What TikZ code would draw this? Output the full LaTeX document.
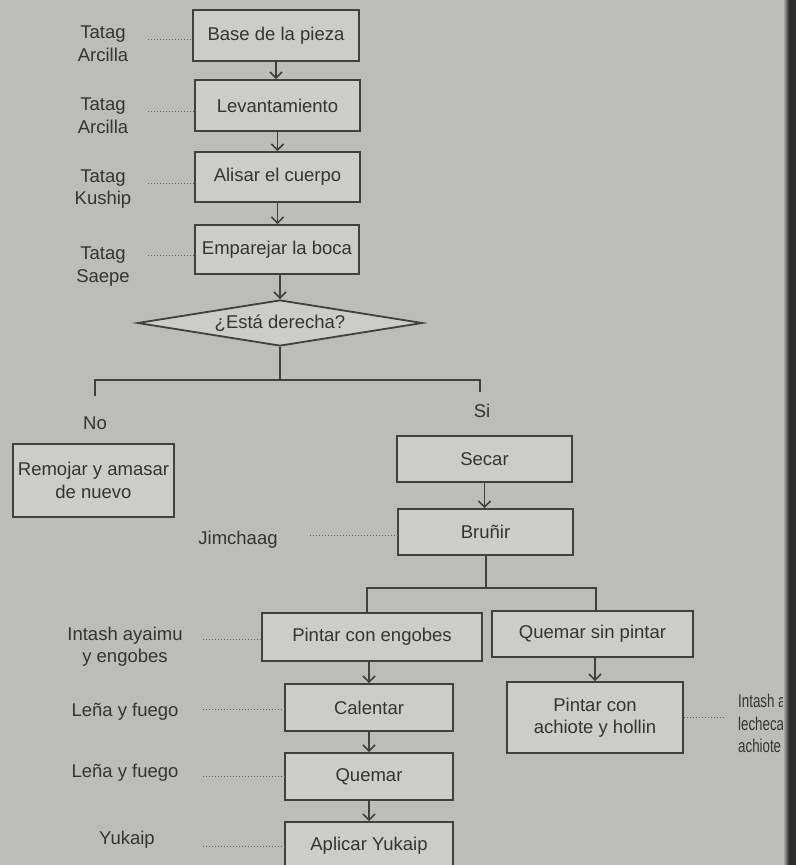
\documentclass[tikz,border=0pt]{standalone}
\usepackage{fontspec}
\setmainfont{Liberation Sans}
\usetikzlibrary{arrows.meta,shapes.geometric}
\definecolor{bg}{RGB}{188,189,184}
\definecolor{boxfill}{RGB}{204,205,200}
\definecolor{ink}{RGB}{52,52,50}
\definecolor{edge}{RGB}{64,64,60}
\definecolor{dotc}{RGB}{96,96,92}
\definecolor{bind}{RGB}{45,45,43}
\begin{document}
\begin{tikzpicture}[x=1pt,y=-1pt,
  font=\fontsize{18.5}{22.5}\selectfont,
  every node/.style={text=ink},
  stepbox/.style={draw=edge,line width=1.8pt,fill=boxfill,inner sep=0pt,align=center},
  decision/.style={diamond,draw=edge,line width=1.8pt,fill=boxfill,inner sep=0pt,aspect=6},
  lbl/.style={align=center,inner sep=0pt},
  flow/.style={draw=edge,line width=1.6pt,-{Straight Barb[length=6pt,width=12pt,line width=1.6pt]}},
  link/.style={draw=edge,line width=1.6pt},
  dots/.style={draw=dotc,line width=1pt,dash pattern=on 1pt off 2pt}
]
\useasboundingbox (0,0) rectangle (796,865);
\clip (0,0) rectangle (796,865);
\fill[bg] (0,0) rectangle (796,865);

% main column
\node[stepbox,minimum width=166pt,minimum height=51pt] (b1) at (276,35.5) {Base de la pieza};
\node[stepbox,minimum width=165pt,minimum height=51pt] (b2) at (277.5,105.5) {Levantamiento};
\node[stepbox,minimum width=165pt,minimum height=50pt] (b3) at (277.5,177) {Alisar el cuerpo};
\node[stepbox,minimum width=164pt,minimum height=49pt] (b4) at (277,249.5) {Emparejar la boca};
\node[decision,minimum width=285pt,minimum height=46pt] (q) at (280,323) {¿Está derecha?};

% left labels
\node[lbl] (l1) at (103,43.5) {Tatag\\Arcilla};
\node[lbl] (l2) at (103,115.5) {Tatag\\Arcilla};
\node[lbl] (l3) at (103,189) {Tatag\\Kuship};
\node[lbl] (l4) at (103,266.5) {Tatag\\Saepe};

% branches
\node[lbl] (no) at (95,423) {No};
\node[lbl] (si) at (482,411) {Si};
\node[stepbox,minimum width=161pt,minimum height=73pt] (rem) at (93.5,480.5) {Remojar y amasar\\de nuevo};
\node[stepbox,minimum width=175pt,minimum height=46pt] (sec) at (484.5,459) {Secar};
\node[stepbox,minimum width=175pt,minimum height=46pt] (bru) at (485.5,532) {Bruñir};
\node[lbl] (ljim) at (238,540) {Jimchaag};

% lower part
\node[stepbox,minimum width=220pt,minimum height=48pt] (pce) at (372,637) {Pintar con engobes};
\node[stepbox,minimum width=201pt,minimum height=46pt] (qsp) at (592.5,634) {Quemar sin pintar};
\node[stepbox,minimum width=168pt,minimum height=47pt] (cal) at (369,707.5) {Calentar};
\node[stepbox,minimum width=176pt,minimum height=71pt] (pca) at (595,717.5) {Pintar con\\achiote y hollin};
\node[stepbox,minimum width=168pt,minimum height=47pt] (quem) at (369,776.5) {Quemar};
\node[stepbox,minimum width=168pt,minimum height=47pt] (apl) at (369,845.5) {Aplicar Yukaip};

\node[lbl] (l5) at (125,646.5) {Intash ayaimu\\y engobes};
\node[lbl] (l6) at (125,712) {Leña y fuego};
\node[lbl] (l7) at (125,773) {Leña y fuego};
\node[lbl] (l8) at (127,840) {Yukaip};
\node[lbl,anchor=west,align=left] (lr) at (738,723.5) {\scalebox{0.72}[1]{Intash a}\\\scalebox{0.72}[1]{lecheca}\\\scalebox{0.72}[1]{achiote}};

% flow arrows (kept vertical)
\draw[flow] (b1.south) -- (b1.south |- b2.north);
\draw[flow] (b2.south) -- (b2.south |- b3.north);
\draw[flow] (b3.south) -- (b3.south |- b4.north);
\draw[flow] (q.north |- b4.south) -- (q.north);

\coordinate (jn) at (280,380);
\coordinate (noL) at (95,380);
\coordinate (noE) at (95,396);
\coordinate (siR) at (480,380);
\coordinate (siE) at (480,392);
\draw[link] (q.south) -- (jn);
\draw[link] (noE) -- (noL) -- (siR) -- (siE);

\draw[flow] (sec.south) -- (sec.south |- bru.north);
\coordinate (sp) at (486,588);
\coordinate (spL) at (367,588);
\coordinate (spR) at (596,588);
\draw[link] (bru.south -| sp) -- (sp);
\draw[link] (pce.north -| spL) -- (spL) -- (spR) -- (qsp.north -| spR);

\draw[flow] (pce.south -| cal.north) -- (cal.north);
\draw[flow] (qsp.south -| pca.north) -- (pca.north);
\draw[flow] (cal.south) -- (quem.north);
\draw[flow] (quem.south) -- (apl.north);

% dotted links
\coordinate (dxa) at (148,0);
\coordinate (dxb) at (203,0);
\coordinate (dxc) at (310,0);
\coordinate (dxr) at (725,0);
\coordinate (e1) at ([yshift=-4pt]b1.west);
\coordinate (e2) at ([yshift=-6pt]b2.west);
\coordinate (e3) at ([yshift=-6pt]b3.west);
\coordinate (e4) at ([yshift=-6pt]b4.west);
\coordinate (e5) at ([yshift=-3pt]bru.west);
\coordinate (e6) at ([yshift=-2pt]pce.west);
\coordinate (e7) at ([yshift=-2pt]cal.west);
\coordinate (e8) at (quem.west);
\coordinate (e9) at ([yshift=-1pt]apl.west);
\draw[dots] (e1 -| dxa) -- (e1);
\draw[dots] (e2 -| dxa) -- (e2);
\draw[dots] (e3 -| dxa) -- (e3);
\draw[dots] (e4 -| dxa) -- (e4);
\draw[dots] (e5 -| dxc) -- (e5);
\draw[dots] (e6 -| dxb) -- (e6);
\draw[dots] (e7 -| dxb) -- (e7);
\draw[dots] (e8 -| dxb) -- (e8);
\draw[dots] (e9 -| dxb) -- (e9);
\draw[dots] (pca.east) -- (pca.east -| dxr);

% binding shadow at right edge
\shade[left color=bg,right color=bind] (783,0) rectangle (789,865);
\fill[bind] (789,0) rectangle (796,865);
\end{tikzpicture}
\end{document}
